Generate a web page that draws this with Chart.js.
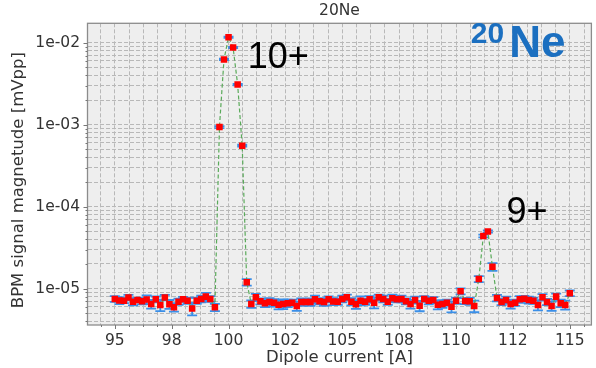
<!DOCTYPE html>
<html>
<head>
<meta charset="utf-8">
<title>20Ne</title>
<script src="https://cdn.jsdelivr.net/npm/chart.js"></script>
<style>
  html, body { margin: 0; padding: 0; background: #fff; }
</style>
</head>
<body>
<canvas id="bpm" width="596" height="368"></canvas>
<script>
// dipole scan, one BPM reading every 0.2 A
const currentA = [
  95.0, 95.2, 95.4, 95.6, 95.8, 96.0, 96.2, 96.4, 96.6, 96.8,
  97.0, 97.2, 97.4, 97.6, 97.8, 98.0, 98.2, 98.4, 98.6, 98.8,
  99.0, 99.2, 99.4, 99.6, 99.8, 100.0, 100.2, 100.4, 100.6, 100.8,
  101.0, 101.2, 101.4, 101.6, 101.8, 102.0, 102.2, 102.4, 102.6, 102.8,
  103.0, 103.2, 103.4, 103.6, 103.8, 104.0, 104.2, 104.4, 104.6, 104.8,
  105.0, 105.2, 105.4, 105.6, 105.8, 106.0, 106.2, 106.4, 106.6, 106.8,
  107.0, 107.2, 107.4, 107.6, 107.8, 108.0, 108.2, 108.4, 108.6, 108.8,
  109.0, 109.2, 109.4, 109.6, 109.8, 110.0, 110.2, 110.4, 110.6, 110.8,
  111.0, 111.2, 111.4, 111.6, 111.8, 112.0, 112.2, 112.4, 112.6, 112.8,
  113.0, 113.2, 113.4, 113.6, 113.8, 114.0, 114.2, 114.4, 114.6, 114.8,
  115.0
];

// BPM signal magnitude [mVpp]
const signal = [
  7.49e-6, 7.18e-6, 7.14e-6, 7.81e-6, 6.94e-6, 7.28e-6, 7.04e-6, 7.36e-6, 6.51e-6, 7.42e-6,
  6.33e-6, 7.81e-6, 6.47e-6, 5.93e-6, 6.94e-6, 7.42e-6, 7.14e-6, 5.72e-6, 7.14e-6, 7.49e-6,
  7.99e-6, 7.49e-6, 5.93e-6, 9.37e-4, 6.27e-3, 1.17e-2, 8.74e-3, 3.09e-3, 5.55e-4, 1.20e-5,
  6.51e-6, 7.85e-6, 7.02e-6, 6.64e-6, 6.88e-6, 6.75e-6, 6.38e-6, 6.51e-6, 6.64e-6, 6.75e-6,
  6.15e-6, 6.88e-6, 6.88e-6, 6.88e-6, 7.42e-6, 7.02e-6, 6.88e-6, 7.42e-6, 6.98e-6, 6.94e-6,
  7.49e-6, 7.85e-6, 6.94e-6, 6.45e-6, 7.14e-6, 6.94e-6, 7.42e-6, 6.75e-6, 7.85e-6, 7.49e-6,
  6.94e-6, 7.64e-6, 7.42e-6, 7.49e-6, 7.02e-6, 6.51e-6, 7.28e-6, 6.20e-6, 7.49e-6, 7.14e-6,
  7.28e-6, 6.38e-6, 6.51e-6, 6.75e-6, 6.03e-6, 7.14e-6, 9.30e-6, 7.08e-6, 7.02e-6, 6.15e-6,
  1.31e-5, 4.39e-5, 4.98e-5, 1.85e-5, 7.70e-6, 6.88e-6, 7.28e-6, 6.51e-6, 6.75e-6, 7.42e-6,
  7.55e-6, 7.28e-6, 7.14e-6, 6.33e-6, 7.85e-6, 6.88e-6, 6.15e-6, 7.99e-6, 6.64e-6, 6.33e-6,
  8.79e-6
];

const signalErr = [
  6e-7, 7e-7, 5e-7, 6e-7, 7e-7, 5e-7, 6e-7, 9e-7, 8e-7, 6e-7,
  1.0e-6, 6e-7, 8e-7, 7e-7, 6e-7, 5e-7, 6e-7, 1.0e-6, 6e-7, 7e-7,
  9e-7, 6e-7, 6e-7, 2.5e-5, 1.2e-4, 2.0e-4, 1.5e-4, 6e-5, 1.5e-5, 1.1e-6,
  7e-7, 8e-7, 6e-7, 7e-7, 8e-7, 7e-7, 8e-7, 9e-7, 7e-7, 6e-7,
  8e-7, 7e-7, 6e-7, 7e-7, 8e-7, 6e-7, 7e-7, 6e-7, 7e-7, 6e-7,
  7e-7, 6e-7, 7e-7, 8e-7, 9e-7, 6e-7, 7e-7, 1.0e-6, 6e-7, 7e-7,
  6e-7, 8e-7, 6e-7, 7e-7, 6e-7, 8e-7, 7e-7, 9e-7, 6e-7, 7e-7,
  6e-7, 8e-7, 7e-7, 6e-7, 9e-7, 6e-7, 8e-7, 6e-7, 7e-7, 1.0e-6,
  1.1e-6, 1.6e-6, 1.5e-6, 2.0e-6, 7e-7, 6e-7, 7e-7, 8e-7, 6e-7, 7e-7,
  6e-7, 7e-7, 6e-7, 9e-7, 7e-7, 6e-7, 8e-7, 7e-7, 7e-7, 8e-7,
  7e-7
];

const xMajorTicks = [95, 97.5, 100, 102.5, 105, 107.5, 110, 112.5, 115];
const xTickLabels = ['95', '98', '100', '102', '105', '108', '110', '112', '115'];
const yDecades = [1e-6, 1e-5, 1e-4, 1e-3, 1e-2];
const yTickLabels = ['1e-06', '1e-05', '1e-04', '1e-03', '1e-02'];

// charge state labels, placed in data coordinates
const chargeStates = [
  { text: '10+', x: 100.84, y: 4.9e-3 },
  { text: '9+', x: 112.22, y: 6.3e-5 },
];

const X_MIN = 93.8, X_MAX = 115.95;
const Y_MIN = 3.6e-6, Y_MAX = 1.73e-2;
const FONT = "'DejaVu Sans', sans-serif";
const TEXT = '#333333';

// minor grid every quarter of a major step
const xStep = (xMajorTicks[1] - xMajorTicks[0]) / 4;
const xGridTicks = [];
for (let v = xMajorTicks[0] - xStep * Math.floor((xMajorTicks[0] - X_MIN) / xStep); v <= X_MAX; v += xStep) {
  xGridTicks.push(v);
}
const yGridTicks = [];
yDecades.forEach((d) => {
  for (let m = 1; m <= 9; m++) {
    const v = m === 1 ? d : m * d;
    if (v >= Y_MIN && v <= Y_MAX) yGridTicks.push(v);
  }
});

const plotFrame = {
  id: 'plotFrame',
  beforeDraw(chart) {
    const { ctx, chartArea: a } = chart;
    ctx.save();
    ctx.fillStyle = '#eeeeee';
    ctx.fillRect(a.left, a.top, a.right - a.left, a.bottom - a.top);
    ctx.restore();
  },
  beforeDatasetsDraw(chart) {
    // error bars sit under the markers
    const { ctx, scales: { x, y } } = chart;
    ctx.save();
    ctx.strokeStyle = '#3a8fe8';
    ctx.lineWidth = 1.8;
    signal.forEach((v, i) => {
      const px = x.getPixelForValue(currentA[i]);
      const top = y.getPixelForValue(v + signalErr[i]);
      const bot = y.getPixelForValue(Math.max(v - signalErr[i], Y_MIN / 10));
      ctx.beginPath();
      ctx.moveTo(px, top); ctx.lineTo(px, bot);
      ctx.moveTo(px - 5, top); ctx.lineTo(px + 5, top);
      ctx.moveTo(px - 5, bot); ctx.lineTo(px + 5, bot);
      ctx.stroke();
    });
    ctx.restore();
  },
  afterDatasetsDraw(chart) {
    const { ctx, chartArea: a, scales: { x, y } } = chart;
    ctx.save();
    // axes frame
    ctx.strokeStyle = '#8c8c8c';
    ctx.lineWidth = 1.3;
    ctx.strokeRect(a.left, a.top, a.right - a.left, a.bottom - a.top);

    // tick marks, long on labelled ticks
    ctx.strokeStyle = '#777777';
    ctx.lineWidth = 1;
    ctx.beginPath();
    xGridTicks.forEach((v) => {
      const px = Math.round(x.getPixelForValue(v)) + 0.5;
      const len = xMajorTicks.includes(v) ? 4 : 2;
      ctx.moveTo(px, a.bottom); ctx.lineTo(px, a.bottom + len);
    });
    yGridTicks.forEach((v) => {
      const py = Math.round(y.getPixelForValue(v)) + 0.5;
      const len = yDecades.includes(v) ? 4 : 2;
      ctx.moveTo(a.left, py); ctx.lineTo(a.left - len, py);
    });
    ctx.stroke();

    // charge states
    ctx.fillStyle = '#000000';
    ctx.font = "36px 'Liberation Sans', Arial, sans-serif";
    ctx.textAlign = 'left';
    ctx.textBaseline = 'alphabetic';
    chargeStates.forEach((c) => {
      ctx.fillText(c.text, x.getPixelForValue(c.x), y.getPixelForValue(c.y));
    });

    // isotope badge, top right corner
    ctx.fillStyle = '#1b6fc0';
    ctx.textAlign = 'right';
    ctx.font = "bold 44px 'Liberation Sans', Arial, sans-serif";
    const neRight = a.right - 26;
    ctx.fillText('Ne', neRight, a.top + 34);
    const neLeft = neRight - ctx.measureText('Ne').width;
    ctx.font = "bold 30px 'Liberation Sans', Arial, sans-serif";
    ctx.fillText('20', neLeft - 5, a.top + 20);

    // y axis title
    ctx.fillStyle = TEXT;
    ctx.font = `16.5px ${FONT}`;
    ctx.textAlign = 'center';
    ctx.textBaseline = 'middle';
    ctx.translate(19, (a.top + a.bottom) / 2 + 6);
    ctx.rotate(-Math.PI / 2);
    ctx.fillText('BPM signal magnetude [mVpp]', 0, 0);
    ctx.restore();
  },
};

new Chart(document.getElementById('bpm'), { // eslint-disable-line no-new
  type: 'line',
  data: {
    datasets: [{
      data: currentA.map((c, i) => ({ x: c, y: signal[i] })),
      borderColor: '#5aaa5a',
      borderWidth: 1.2,
      borderDash: [4, 2.5],
      tension: 0,
      pointStyle: 'rect',
      pointRadius: 4.6,
      pointBackgroundColor: '#ff0000',
      pointBorderColor: '#ff0000',
      pointBorderWidth: 0,
    }],
  },
  options: {
    responsive: false,
    devicePixelRatio: 1,
    animation: false,
    layout: { padding: { top: 0, right: 3, bottom: 0, left: 0 } },
    plugins: {
      legend: { display: false },
      tooltip: { enabled: false },
      title: {
        display: true,
        text: '20Ne',
        fullSize: false,
        color: TEXT,
        font: { family: FONT, size: 15.5, weight: 'normal' },
        padding: { top: 1.5, bottom: 3.2 },
      },
    },
    scales: {
      x: {
        type: 'linear',
        min: X_MIN,
        max: X_MAX,
        afterBuildTicks: (s) => { s.ticks = xGridTicks.map((v) => ({ value: v })); },
        afterFit: (s) => { s.height = 43; },
        ticks: {
          autoSkip: false,
          maxRotation: 0,
          padding: 7,
          color: TEXT,
          font: { family: FONT, size: 15.5 },
          callback: (v) => {
            const i = xMajorTicks.indexOf(v);
            return i >= 0 ? xTickLabels[i] : '';
          },
        },
        grid: { color: '#b8b8b8', lineWidth: 1, drawTicks: false },
        border: { display: false, dash: [4, 2] },
        title: {
          display: true,
          text: 'Dipole current [A]',
          color: TEXT,
          font: { family: FONT, size: 16.5 },
          padding: { top: 0, bottom: 0 },
        },
      },
      y: {
        type: 'logarithmic',
        min: Y_MIN,
        max: Y_MAX,
        afterBuildTicks: (s) => { s.ticks = yGridTicks.map((v) => ({ value: v })); },
        afterFit: (s) => { s.width = 87.5; },
        ticks: {
          autoSkip: false,
          padding: 7.5,
          color: TEXT,
          font: { family: FONT, size: 15.5 },
          callback: (v) => {
            const i = yDecades.indexOf(v);
            return i >= 0 ? yTickLabels[i] : '';
          },
        },
        grid: { color: '#b8b8b8', lineWidth: 1, drawTicks: false },
        border: { display: false, dash: [4, 2] },
      },
    },
  },
  plugins: [plotFrame],
});
</script>
</body>
</html>
